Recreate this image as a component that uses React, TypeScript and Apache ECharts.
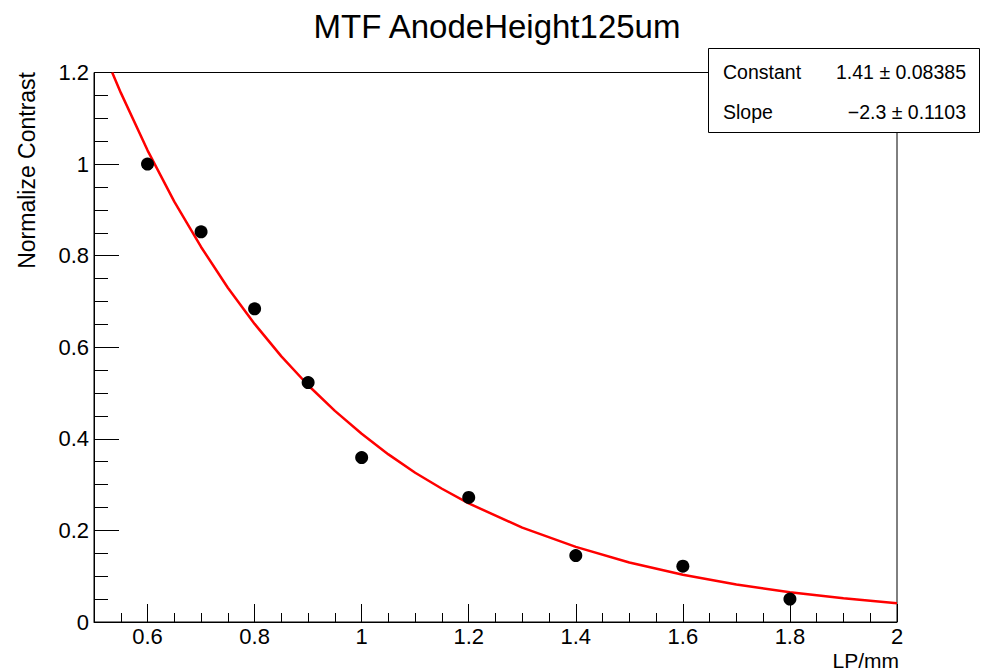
import React, { useEffect, useRef } from "react";
import * as echarts from "echarts";

const titleText = "MTF AnodeHeight125um";
const xTitle = "LP/mm";
const yTitle = "Normalize Contrast";

// measured points (LP/mm, normalized contrast)
const lpValues = [0.6, 0.7, 0.8, 0.9, 1.0, 1.2, 1.4, 1.6, 1.8];
const contrastValues = [1.0, 0.852, 0.684, 0.523, 0.359, 0.272, 0.145, 0.122, 0.05];

// fit curve
const fitX = [0.534, 0.55, 0.6, 0.65, 0.7, 0.75, 0.8, 0.85, 0.9, 0.95, 1.0, 1.05, 1.1, 1.15, 1.2, 1.3, 1.4, 1.5, 1.6, 1.7, 1.8, 1.9, 2.0];
const fitY = [1.2, 1.156, 1.03, 0.918, 0.819, 0.73, 0.651, 0.58, 0.517, 0.461, 0.411, 0.366, 0.326, 0.291, 0.259, 0.206, 0.164, 0.13, 0.103, 0.082, 0.065, 0.052, 0.041];

const statNames = ["Constant", "Slope"];
const statValues = ["1.41 \u00b1 0.08385", "\u22122.3 \u00b1 0.1103"];

const FONT = "'Liberation Sans', Arial, Helvetica, sans-serif";

export default function App() {
  const ref = useRef<HTMLDivElement>(null);
  useEffect(() => {
    if (!ref.current) return;
    const chart = echarts.init(ref.current, null, { renderer: "svg" });
    const fmt = (v: number) => {
      const r = Math.round(v * 100) / 100;
      if (Math.abs(r - 0.5) < 1e-6) return "";
      return String(r);
    };
    chart.setOption({
      animation: false,
      backgroundColor: "#fff",
      grid: {
        left: 94,
        right: 84,
        top: 72.5,
        bottom: 50,
        show: true,
        borderColor: "#000",
        borderWidth: 1,
        backgroundColor: "transparent",
      },
      xAxis: [
        {
          type: "value",
          min: 0.5,
          max: 2,
          minInterval: 0.2,
          maxInterval: 0.2,
          splitNumber: 7,
          position: "bottom",
          axisLine: { show: true, lineStyle: { color: "#000", width: 1 } },
          axisTick: { show: true, inside: true, length: 18, lineStyle: { color: "#000", width: 1 } },
          axisLabel: {
            show: true,
            margin: 3,
            fontSize: 22,
            color: "#000",
            fontFamily: FONT,
            formatter: fmt,
          },
          splitLine: { show: false },
        },
        {
          type: "value",
          min: 0.5,
          max: 2,
          interval: 0.05,
          position: "bottom",
          axisLine: { show: false },
          axisTick: { show: true, inside: true, length: 9, lineStyle: { color: "#000", width: 1 } },
          axisLabel: { show: false },
          splitLine: { show: false },
        },
      ],
      yAxis: {
        type: "value",
        min: 0,
        max: 1.2,
        interval: 0.2,
        axisLine: { show: true, lineStyle: { color: "#000", width: 1 } },
        axisTick: { show: true, inside: true, length: 25, lineStyle: { color: "#000", width: 1 } },
        minorTick: { show: true, splitNumber: 4, length: 14, lineStyle: { color: "#000", width: 1 } },
        axisLabel: { margin: 5, fontSize: 22, color: "#000", fontFamily: FONT },
        splitLine: { show: false },
        minorSplitLine: { show: false },
      },
      series: [
        {
          type: "line",
          xAxisIndex: 0,
          data: fitX.map((x, i) => [x, fitY[i]]),
          showSymbol: false,
          symbol: "none",
          smooth: false,
          clip: true,
          lineStyle: { color: "#ff0000", width: 2.5 },
          z: 2,
        },
        {
          type: "scatter",
          xAxisIndex: 0,
          data: lpValues.map((x, i) => [x, contrastValues[i]]),
          symbol: "circle",
          symbolSize: 13,
          itemStyle: { color: "#000", opacity: 1 },
          z: 3,
        },
      ],
      graphic: [
        {
          type: "text",
          x: 497,
          y: 26,
          style: {
            text: titleText,
            fontSize: 33,
            fontFamily: FONT,
            fill: "#000",
            align: "center",
            verticalAlign: "middle",
          },
        },
        {
          type: "text",
          x: 27,
          y: 72,
          rotation: Math.PI / 2,
          style: {
            text: yTitle,
            fontSize: 23,
            fontFamily: FONT,
            fill: "#000",
            align: "right",
            verticalAlign: "middle",
          },
        },
        {
          type: "text",
          x: 899,
          y: 660,
          style: {
            text: xTitle,
            fontSize: 21,
            fontFamily: FONT,
            fill: "#000",
            align: "right",
            verticalAlign: "middle",
          },
        },
        {
          type: "group",
          z: 100,
          children: [
            {
              type: "rect",
              shape: { x: 708.5, y: 48.5, width: 271, height: 84 },
              style: { fill: "#fff", stroke: "#000", lineWidth: 1 },
              z: 100,
            },
            ...statNames.map((n, i) => ({
              type: "text",
              x: 723,
              y: 72 + i * 40,
              z: 101,
              style: {
                text: n,
                fontSize: 19.5,
                fontFamily: FONT,
                fill: "#000",
                align: "left",
                verticalAlign: "middle",
              },
            })),
            ...statValues.map((v, i) => ({
              type: "text",
              x: 966,
              y: 72 + i * 40,
              z: 101,
              style: {
                text: v,
                fontSize: 19.5,
                fontFamily: FONT,
                fill: "#000",
                align: "right",
                verticalAlign: "middle",
              },
            })),
          ],
        },
      ],
    });
    return () => chart.dispose();
  }, []);
  return (
    <div
      ref={ref}
      style={{ position: "fixed", left: 0, top: 0, width: 981, height: 672 }}
    />
  );
}
